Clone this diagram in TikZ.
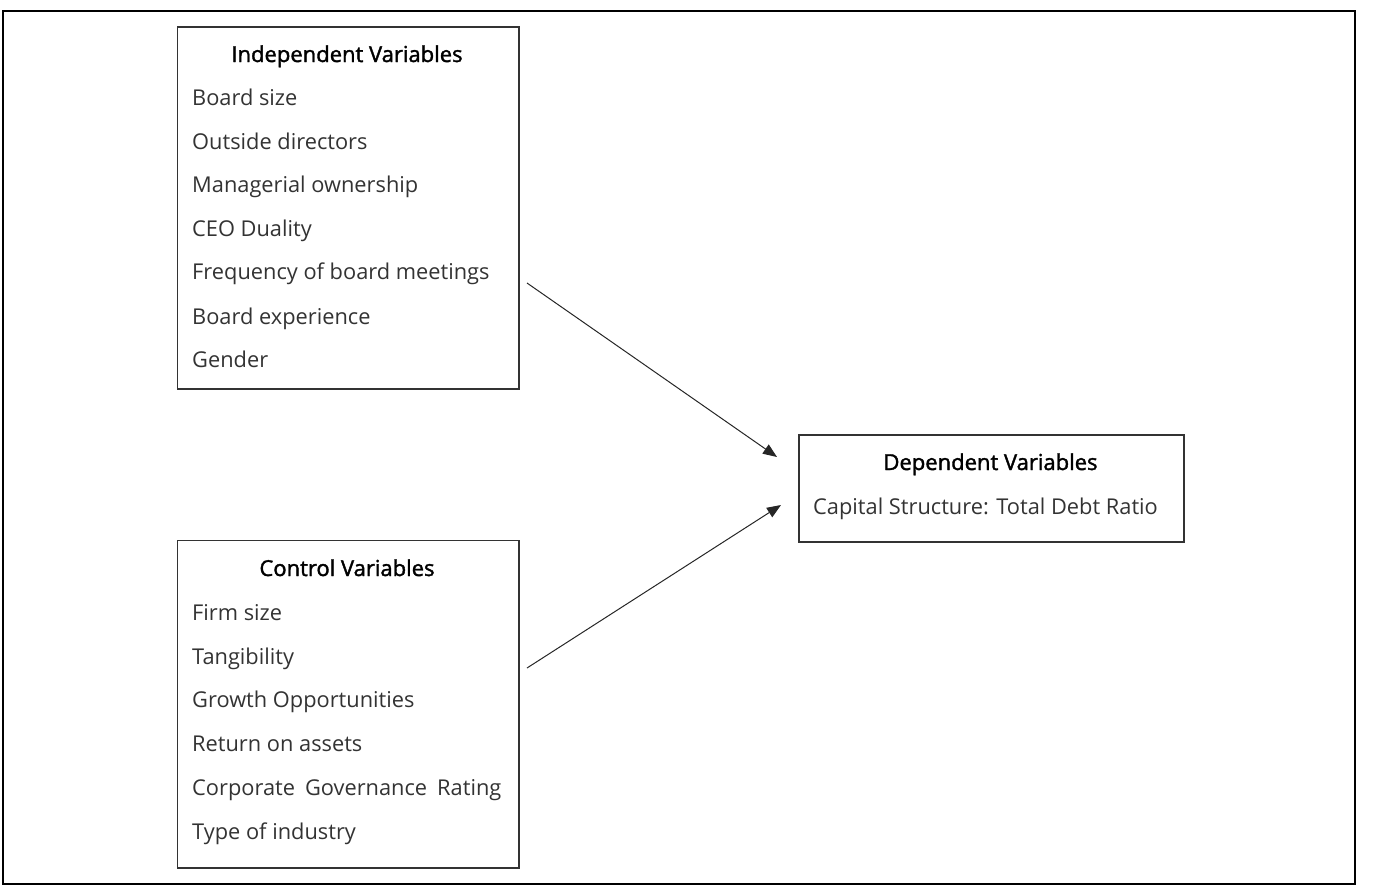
\documentclass[tikz,border=0pt]{standalone}
\usepackage{fontspec}
\setmainfont{Open Sans}
\newfontfamily\headfont[FakeBold=1.6]{Open Sans}
\usetikzlibrary{arrows.meta}
\begin{document}
\begin{tikzpicture}[x=1pt,y=-1pt,
  frame/.style={draw=black,line width=2.5pt},
  box/.style={draw=black!80,line width=1.5pt,inner sep=0pt,anchor=north west},
  head/.style={anchor=base,inner sep=0pt,font=\headfont\fontsize{22}{24}\selectfont,text=black},
  item/.style={anchor=base west,inner sep=0pt,font=\fontsize{21.8}{24}\selectfont,text=black!80},
  arr/.style={draw=black!85,line width=1pt,-{Triangle[length=14pt,width=11pt]}}]
\useasboundingbox (0,0) rectangle (1375,887);
\draw[frame] (3,11) rectangle (1355,884);
% Independent
\node[box,minimum width=341.5pt,minimum height=362pt] (ind) at (176.5,26) {};
\node[head] (indh) at (347,62) {Independent Variables};
\node[item] (i1) at (192,105) {Board size};
\node[item] (i2) at (192,149) {Outside directors};
\node[item] (i3) at (192,192) {Managerial ownership};
\node[item] (i4) at (192,236) {CEO Duality};
\node[item] (i5) at (192,279) {Frequency of board meetings};
\node[item] (i6) at (192,324) {Board experience};
\node[item] (i7) at (192,367) {Gender};
% Control
\node[box,minimum width=341.5pt,minimum height=327.5pt] (con) at (176.5,539.5) {};
\node[head] (conh) at (347,576) {Control Variables};
\node[item] (c1) at (192,620) {Firm size};
\node[item] (c2) at (192,664) {Tangibility};
\node[item] (c3) at (192,707) {Growth Opportunities};
\node[item] (c4) at (192,751) {Return on assets};
\node[item] (c5) at (192,795) {Corporate\hspace{0.2em} Governance\hspace{0.2em} Rating};
\node[item] (c6) at (192,839) {Type of industry};
% Dependent
\node[box,minimum width=385pt,minimum height=107pt] (dep) at (798,434) {};
\node[head] (deph) at (990.5,470) {Dependent Variables};
\node[item] (d1) at (813,514) {Capital Structure: Total Debt Ratio};
% arrows
\coordinate (a1s) at (527,283);
\coordinate (a1e) at (777,457);
\coordinate (a2s) at (527,668);
\coordinate (a2e) at (781,505);
\draw[arr] (a1s) -- (a1e);
\draw[arr] (a2s) -- (a2e);
\end{tikzpicture}
\end{document}
